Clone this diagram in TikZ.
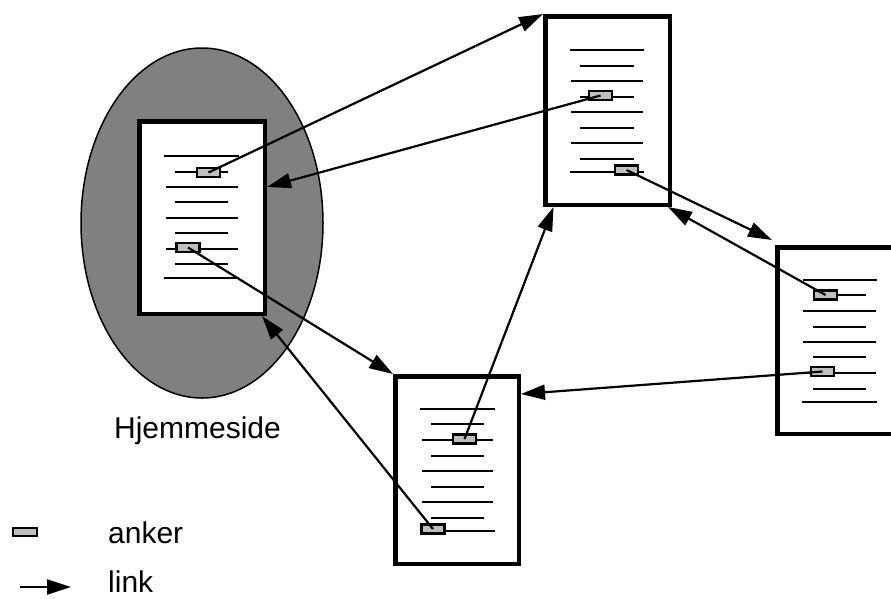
\documentclass[tikz,border=0pt]{standalone}
\usepackage{fontspec}
\setmainfont{Liberation Sans}
\usetikzlibrary{arrows.meta,shapes.geometric}
\begin{document}
\begin{tikzpicture}[x=1pt,y=-1pt,
  doc/.style={draw,line width=4.5pt,fill=white,inner sep=0pt},
  ank/.style={draw,line width=2.2pt,fill=gray!50,inner sep=0pt,minimum width=23pt,minimum height=9pt},
  txt/.style={line width=2.3pt},
  lnk/.style={line width=2.2pt,-{Triangle[length=24pt,width=15pt]}},
  lbl/.style={inner sep=0pt,font=\fontsize{30}{36}\selectfont}]
\useasboundingbox (0,0) rectangle (891,598);
% home page ellipse
\node[ellipse,draw,line width=1.5pt,fill=gray,inner sep=0pt,minimum width=242pt,minimum height=350pt] (home) at (202,223) {};
% documents
\node[doc,minimum width=125.5pt,minimum height=192.5pt] (L) at (202,217.5) {};
\node[doc,minimum width=124.5pt,minimum height=188.5pt] (T) at (607.5,110.5) {};
\node[doc,minimum width=123.5pt,minimum height=187.5pt] (B) at (457,470) {};
\node[doc,minimum width=123.5pt,minimum height=186.5pt] (R) at (839,340.5) {};
% text lines: left
\foreach \y/\a/\b in {156/164/239,172/175/228,187/166/238,202/175/228,218/166/238,233/175/228,249/166/238,264/175/228,278/164/239}
  \draw[txt] (\a,\y) -- (\b,\y);
% text lines: top
\foreach \y/\a/\b in {50/570/644,66/580/634,81/571/643,97/580/634,112/571/643,128/580/634,143/571/643,159/580/634,172/570/644}
  \draw[txt] (\a,\y) -- (\b,\y);
% text lines: right
\foreach \y/\a/\b in {280/803/877,295/813/866,311/803/876,327/813/866,342/803/876,357/813/866,373/803/876,389/813/866,402/802/877}
  \draw[txt] (\a,\y) -- (\b,\y);
% text lines: bottom
\foreach \y/\a/\b in {409/420/495,424/431/484,440/422/493,456/431/484,471/422/493,487/431/484,502/422/493,518/431/484,531/445/495}
  \draw[txt] (\a,\y) -- (\b,\y);
% anchors
\node[ank] (L1) at (208.5,172.5) {};
\node[ank] (L2) at (188,247.5) {};
\node[ank] (T1) at (600.5,95.5) {};
\node[ank] (T2) at (626.5,170) {};
\node[ank] (R1) at (825.5,295) {};
\node[ank] (R2) at (822.5,371.5) {};
\node[ank] (B1) at (464.5,439) {};
\node[ank] (B2) at (433,529) {};
% links
\draw[lnk] (L1.center) -- (T.north west);
\draw[lnk] (T1.center) -- ([yshift=30.5pt]L.east);
\draw[lnk] (L2.center) -- (B.north west);
\draw[lnk] (B2.center) -- ([xshift=-5pt]L.south east);
\draw[lnk] (B1.center) -- ([xshift=-54pt]T.south);
\draw[lnk] (T2.center) -- ([shift={(-3pt,5pt)}]R.north west);
\draw[lnk] (R1.center) -- ([xshift=-4pt]T.south east);
\draw[lnk] (R2.center) -- ([yshift=76pt]B.east);
% labels
\node[lbl,anchor=base] (hl) at (197.5,438) {Hjemmeside};
% legend
\node[ank,minimum width=24pt,minimum height=8pt] (lgA) at (25,532) {};
\node[lbl,anchor=base west] (lgAt) at (108,543) {anker};
\coordinate (lk1) at (20,587);
\coordinate (lk2) at (71,587);
\draw[lnk] (lk1) -- (lk2);
\node[lbl,anchor=base west] (lgLt) at (108,592) {link};
\end{tikzpicture}
\end{document}
